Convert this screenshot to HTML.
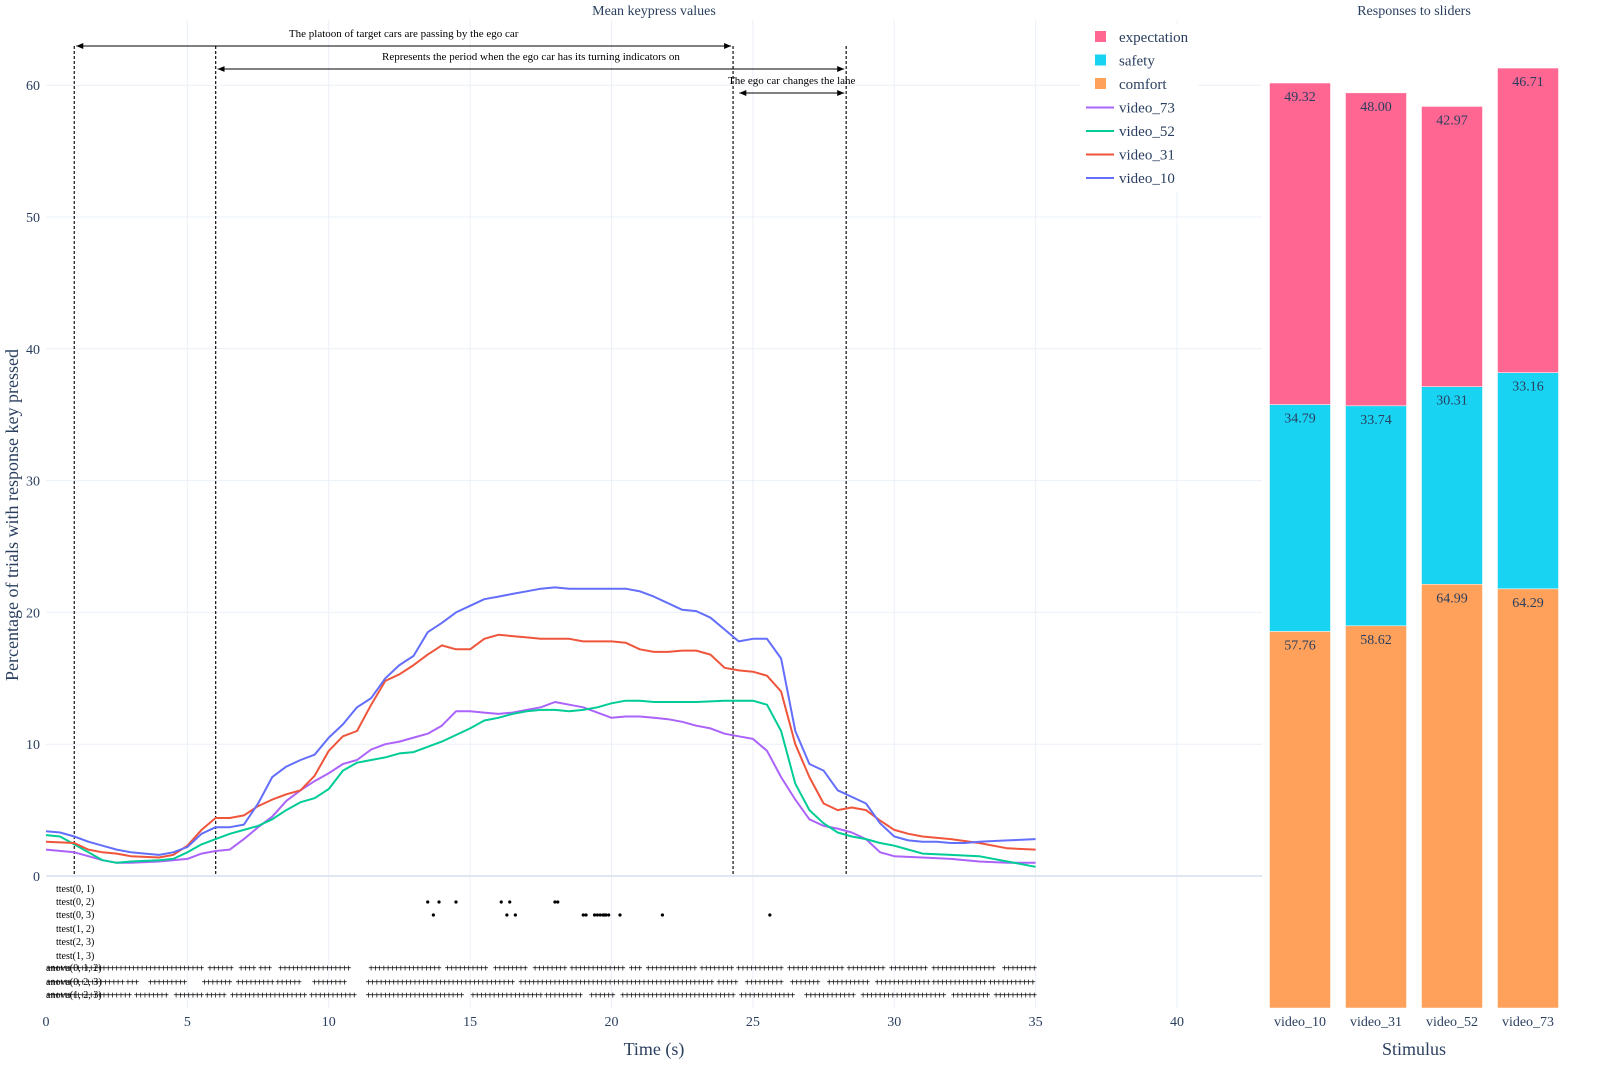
<!DOCTYPE html>
<html><head><meta charset="utf-8">
<style>
html,body{margin:0;padding:0;background:#fff;}
svg{display:block;font-family:"Liberation Serif",serif;}
</style></head>
<body>
<svg id="chart" width="1600" height="1080" viewBox="0 0 1600 1080" xmlns="http://www.w3.org/2000/svg">
<g id="grid"></g>
<g id="annot"></g>
<g id="lines"></g>
<g id="sig"></g>
<g id="bars"></g>
<g id="axes"></g>
<g id="legend"></g>
<text x="654" y="15" text-anchor="middle" font-size="14" fill="#2a3f5f">Mean keypress values</text>
<text x="1414" y="15" text-anchor="middle" font-size="14" fill="#2a3f5f">Responses to sliders</text>
<text x="654" y="1055" text-anchor="middle" font-size="18" fill="#2a3f5f">Time (s)</text>
<text x="1414" y="1055" text-anchor="middle" font-size="18" fill="#2a3f5f">Stimulus</text>
<text x="18" y="515" text-anchor="middle" font-size="18" fill="#2a3f5f" transform="rotate(-90 18 515)">Percentage of trials with response key pressed</text>
</svg>
<script>
const NS="http://www.w3.org/2000/svg";
const xTicks=[0,5,10,15,20,25,30,35,40];
const yTicks=[0,10,20,30,40,50,60];
const t10=[0,0.5,1,1.5,2,2.5,3,3.5,4,4.5,5,5.5,6,6.5,7,7.5,8,8.5,9,9.5,10,10.5,11,11.5,12,12.5,13,13.5,14,14.5,15,15.5,16,16.5,17,17.5,18,18.5,19,20,20.5,21,21.5,22,22.5,23,23.5,24,24.5,25,25.5,26,26.5,27,27.5,28,28.5,29,29.5,30,30.5,31,31.5,32,32.5,33,34,35];
const v10=[3.4,3.3,3.0,2.6,2.3,2.0,1.8,1.7,1.6,1.8,2.2,3.2,3.7,3.7,3.9,5.5,7.5,8.3,8.8,9.2,10.5,11.5,12.8,13.5,15,16,16.7,18.5,19.2,20,20.5,21,21.2,21.4,21.6,21.8,21.9,21.8,21.8,21.8,21.8,21.6,21.2,20.7,20.2,20.1,19.6,18.7,17.8,18.0,18.0,16.5,11,8.5,8,6.5,6,5.5,4,3,2.7,2.6,2.6,2.5,2.5,2.6,2.7,2.8];
const t31=[0,1,1.5,2,2.5,3,4,4.5,5,5.5,6,6.5,7,7.5,8,8.5,9,9.5,10,10.5,11,11.5,12,12.5,13,13.5,14,14.5,15,15.5,16,16.5,17,17.5,18,18.5,19,19.5,20,20.5,21,21.5,22,22.5,23,23.5,24,24.5,25,25.5,26,26.5,27,27.5,28,28.5,29,29.5,30,30.5,31,32,33,34,35];
const v31=[2.6,2.5,2.0,1.8,1.7,1.5,1.4,1.6,2.3,3.5,4.4,4.4,4.6,5.3,5.8,6.2,6.5,7.6,9.5,10.6,11,13,14.8,15.3,16,16.8,17.5,17.2,17.2,18,18.3,18.2,18.1,18,18,18,17.8,17.8,17.8,17.7,17.2,17,17,17.1,17.1,16.8,15.8,15.6,15.5,15.2,14,10,7.5,5.5,5,5.2,5,4.2,3.5,3.2,3,2.8,2.5,2.1,2.0];
const t52=[0,0.5,1,1.5,2,2.5,3,4,4.5,5,5.5,6,6.5,7,7.5,8,8.5,9,9.5,10,10.5,11,11.5,12,12.5,13,13.5,14,14.5,15,15.5,16,16.5,17,17.5,18,18.5,19,19.5,20,20.5,21,21.5,22,23,24,25,25.5,26,26.5,27,27.5,28,28.5,29,29.5,30,30.5,31,32,33,34,35];
const v52=[3.1,3.0,2.4,1.8,1.2,1.0,1.1,1.2,1.3,1.8,2.4,2.8,3.2,3.5,3.8,4.3,5,5.6,5.9,6.6,8,8.6,8.8,9,9.3,9.4,9.8,10.2,10.7,11.2,11.8,12.0,12.3,12.5,12.6,12.6,12.5,12.6,12.8,13.1,13.3,13.3,13.2,13.2,13.2,13.3,13.3,13,11,7,5,4,3.3,3.0,2.8,2.5,2.3,2.0,1.7,1.6,1.5,1.1,0.7];
const t73=[0,1,1.5,2,2.5,3,4,5,5.5,6,6.5,7,7.5,8,8.5,9,9.5,10,10.5,11,11.5,12,12.5,13,13.5,14,14.5,15,15.5,16,16.5,17,17.5,18,18.5,19,19.5,20,20.5,21,21.5,22,22.5,23,23.5,24,24.5,25,25.5,26,26.5,27,27.5,28,28.5,29,29.5,30,31,32,33,34,35];
const v73=[2.0,1.8,1.5,1.2,1.0,1.0,1.1,1.3,1.7,1.9,2.0,2.8,3.7,4.5,5.7,6.5,7.2,7.8,8.5,8.8,9.6,10,10.2,10.5,10.8,11.4,12.5,12.5,12.4,12.3,12.4,12.6,12.8,13.2,13,12.8,12.4,12,12.1,12.1,12,11.9,11.7,11.4,11.2,10.8,10.6,10.4,9.5,7.5,5.8,4.3,3.8,3.6,3.3,2.8,1.8,1.5,1.4,1.3,1.1,1.0,1.0];
const sigLabels=["ttest(0, 1)","ttest(0, 2)","ttest(0, 3)","ttest(1, 2)","ttest(2, 3)","ttest(1, 3)","anova(0, 1, 2)","anova(0, 2, 3)","anova(1, 2, 3)"];
const sig01=[];
const sig02=[13.5,13.9,14.5,16.1,16.4,18.0,18.1];
const sig03=[13.7,16.3,16.6,19.0,19.1,19.4,19.5,19.6,19.7,19.75,19.8,19.9,20.3,21.8,25.6];
const sig12=[],sig23=[],sig13=[];
const anova012=[[0.1,5.5],[5.8,6.6],[6.9,7.4],[7.6,8.0],[8.3,10.8],[11.5,13.9],[14.2,15.6],[15.9,17.0],[17.3,18.4],[18.6,20.4],[20.7,21.0],[21.3,23.0],[23.2,24.3],[24.5,26.0],[26.3,26.9],[27.1,28.2],[28.4,29.6],[29.9,31.2],[31.4,33.6],[33.9,35]];
const anova023=[[0.1,1.3],[1.5,2.7],[2.9,3.3],[3.7,4.9],[5.6,6.6],[6.8,8.0],[8.2,9.0],[9.5,10.6],[11.4,16.6],[16.8,21.2],[21.3,23.6],[23.8,24.4],[24.8,26.1],[26.4,27.4],[27.7,29.1],[29.4,31.2],[31.4,33.2],[33.4,35]];
const anova123=[[0.1,3.0],[3.2,4.3],[4.6,5.5],[5.7,6.3],[6.6,9.2],[9.4,10.9],[11.4,14.8],[15.1,17.5],[17.7,19.0],[19.3,20.1],[20.4,24.3],[24.6,26.5],[26.9,28.6],[28.9,31.8],[32.1,33.4],[33.6,35]];
const stimuli=["video_10","video_31","video_52","video_73"];
const comfort=[57.76,58.62,64.99,64.29];
const safety=[34.79,33.74,30.31,33.16];
const expectation=[49.32,48.00,42.97,46.71];

const X0=46,PXU=28.275,Y0=876,PYU=13.18;
const xs=t=>X0+t*PXU, ys=v=>Y0-v*PYU;
function mk(tag,attrs,parent,txt){const e=document.createElementNS(NS,tag);for(const k in attrs)e.setAttribute(k,attrs[k]);if(txt!==undefined)e.textContent=txt;parent.appendChild(e);return e;}
const G=id=>document.getElementById(id);
const grid=G('grid'),axes=G('axes');
xTicks.forEach(t=>{
 if(t>0){const l=mk('line',{x1:xs(t),x2:xs(t),y1:20,y2:1008,stroke:'#ebf0f8','stroke-width':1},grid);
 
 }
 const tx=mk('text',{x:xs(t),y:1026,'text-anchor':'middle','font-size':14,fill:'#2a3f5f'},axes,String(t));
 
 
});
yTicks.forEach(v=>{
 const l=mk('line',{x1:46,x2:1262,y1:ys(v),y2:ys(v),stroke:v===0?'#e0e6f2':'#ebf0f8','stroke-width':v===0?2:1},grid);
 
 
 const tx=mk('text',{x:40,y:ys(v)+5,'text-anchor':'end','font-size':14,fill:'#2a3f5f'},axes,String(v));
 
 
});
const an=G('annot');
[1,6,24.3,28.3].forEach(t=>{
 const l=mk('line',{x1:xs(t),x2:xs(t),y1:46,y2:876,stroke:'#222','stroke-width':1.3,'stroke-dasharray':'3,2'},an);
 
 
});
mk('defs',{},an).innerHTML='<marker id="ah" markerWidth="8" markerHeight="8" refX="7" refY="4" orient="auto-start-reverse"><path d="M0,1 L7,4 L0,7 z" fill="#000"/></marker>';
[[1,24.3,46,"The platoon of target cars are passing by the ego car"],[6,28.3,69,"Represents the period when the ego car has its turning indicators on"],[24.45,28.3,93,"The ego car changes the lane"]].forEach(a=>{
 const l=mk('line',{x1:xs(a[0])+2,x2:xs(a[1])-2,y1:a[2],y2:a[2],stroke:'#000','stroke-width':1,'marker-start':'url(#ah)','marker-end':'url(#ah)'},an);
 
 
 const tx=mk('text',{x:(xs(a[0])+xs(a[1]))/2,y:a[2]-9,'text-anchor':'middle','font-size':11,fill:'#000'},an,a[3]);
 
 
});
const series=[["video_73",t73,v73,"#ab63fa"],["video_52",t52,v52,"#00cc96"],["video_31",t31,v31,"#ef553b"],["video_10",t10,v10,"#636efa"]];
const lg=G('lines');
series.forEach(s=>{
 const d=s[1].map((t,i)=>(i?'L':'M')+xs(t).toFixed(1)+','+ys(s[2][i]).toFixed(1)).join(' ');
 const p=mk('path',{d:d,fill:'none',stroke:s[3],'stroke-width':2,'stroke-linejoin':'round'},lg);
 
 
});
const sg=G('sig');
const rowsY=[889,902,915,929,942,956,968,982,995];
const pointRows=[sig01,sig02,sig03,sig12,sig23,sig13];
sigLabels.forEach((lab,i)=>{
 const anova=i>=6;
 const tx=mk('text',{x:anova?46:56,y:rowsY[i]+3,'font-size':10,fill:'#000'},sg,lab);
 
 
});
pointRows.forEach((arr,i)=>arr.forEach(t=>{
 const c=mk('circle',{cx:xs(t),cy:rowsY[i],r:1.6,fill:'#000'},sg);
 
 
}));
[anova012,anova023,anova123].forEach((segs,k)=>segs.forEach(sgm=>{
 for(let t=sgm[0];t<=sgm[1]+1e-6;t+=0.15){
  const c=mk('text',{x:xs(t),y:rowsY[6+k]+3.5,'font-size':10,'font-weight':'bold','text-anchor':'middle',fill:'#000'},sg,'+');
  
  
 }
}));
const bg=G('bars');
const BB=1008,BPU=6.52,BW=61,bx=[1300,1376,1452,1528];
const stacks=[["comfort",comfort,"#ffa15a"],["safety",safety,"#19d3f3"],["expectation",expectation,"#ff6692"]];
stimuli.forEach((s,i)=>{
 let base=0;
 stacks.forEach(st=>{
  const v=st[1][i],y1=BB-(base+v)*BPU,h=v*BPU;
  const r=mk('rect',{x:bx[i]-BW/2,y:y1,width:BW,height:h,fill:st[2],stroke:'#fff','stroke-width':0.5},bg);
  
  
  const tx=mk('text',{x:bx[i],y:y1+18,'text-anchor':'middle','font-size':14,fill:'#2a3f5f'},bg,v.toFixed(2));
  
  
  base+=v;
 });
 const tl=mk('text',{x:bx[i],y:1026,'text-anchor':'middle','font-size':14,fill:'#2a3f5f'},axes,s);
 
 
});
const le=G('legend');
mk('rect',{x:1080,y:24,width:118,height:168,fill:'#fff'},le);
const items=[["expectation","#ff6692","sq"],["safety","#19d3f3","sq"],["comfort","#ffa15a","sq"],["video_73","#ab63fa","ln"],["video_52","#00cc96","ln"],["video_31","#ef553b","ln"],["video_10","#636efa","ln"]];
items.forEach((it,i)=>{
 const y=37+i*23.5;
 const g=mk('g',{},le);
 
 
 if(it[2]==='sq') mk('rect',{x:1095,y:y-6,width:11,height:11,fill:it[1]},g);
 else mk('line',{x1:1086,x2:1114,y1:y,y2:y,stroke:it[1],'stroke-width':2},g);
 mk('text',{x:1119,y:y+5,'font-size':15,fill:'#2a3f5f'},g,it[0]);
});
</script>
</body></html>
